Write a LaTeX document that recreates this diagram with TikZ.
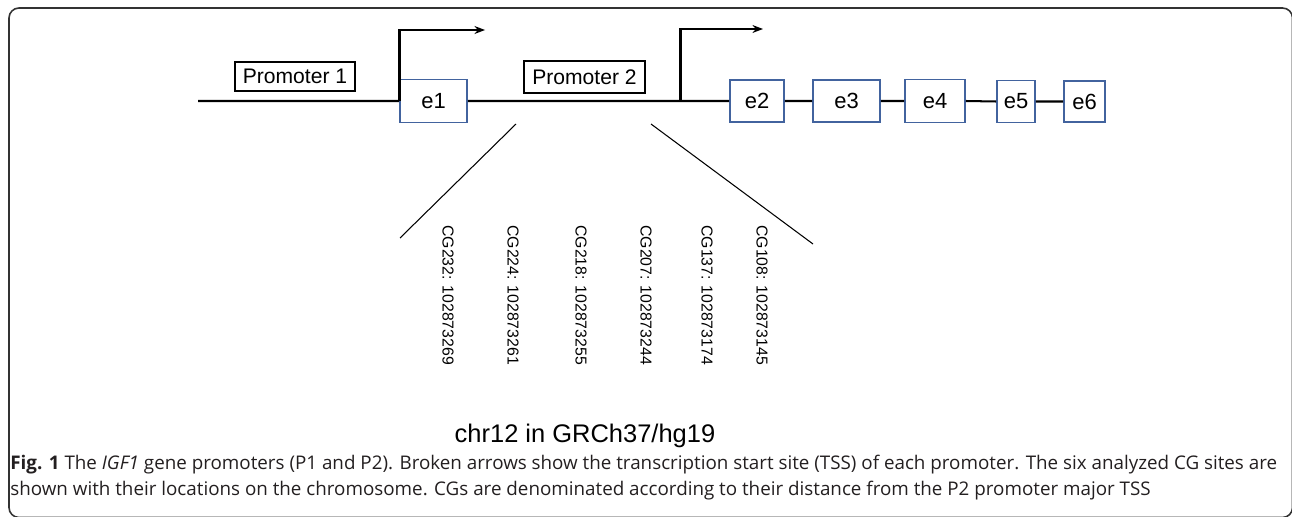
\documentclass[tikz,border=0pt]{standalone}
\usepackage{fontspec}
\setmainfont{Liberation Sans}
\newfontfamily\capfont{Open Sans}
\usetikzlibrary{arrows.meta}
\definecolor{exonblue}{RGB}{66,99,158}
\definecolor{capgray}{RGB}{35,31,32}
\begin{document}
\begin{tikzpicture}[x=0.02cm,y=-0.02cm,
	exon/.style={draw=exonblue,line width=1.1pt,fill=white,inner sep=0pt,font=\fontsize{12.5}{14}\selectfont},
	prom/.style={draw,line width=0.7pt,inner sep=0pt,font=\fontsize{12}{14}\selectfont},
	dna/.style={line width=1.15pt},
	tss/.style={line width=1.7pt,-{Stealth[length=6pt,width=4.5pt]}},
	cg/.style={rotate=-90,anchor=west,inner sep=0pt,font=\fontsize{9}{11}\selectfont},
	caption/.style={anchor=base west,inner sep=0pt,text=capgray,font=\capfont\fontsize{10.7}{14}\selectfont}]
	\useasboundingbox (0,0) rectangle (1292,517);
	\clip (0,0) rectangle (1292,517);
	\draw[line width=0.9pt,black!80,rounded corners=0.2cm] (9,8) rectangle (1292.5,517.5);
	% hộp promoter
	\node[prom,minimum width=2.4cm,minimum height=0.58cm] (p1) at (295,76.5) {Promoter 1};
	\node[prom,minimum width=2.42cm,minimum height=0.64cm] (p2) at (584.5,77) {Promoter 2};
	% exon
	\node[exon,minimum width=1.34cm,minimum height=0.86cm] (e1) at (433.5,101) {e1};
	\node[exon,minimum width=1.08cm,minimum height=0.84cm] (e2) at (757,101) {e2};
	\node[exon,minimum width=1.34cm,minimum height=0.84cm] (e3) at (846.5,101) {e3};
	\node[exon,minimum width=1.2cm,minimum height=0.86cm] (e4) at (935,101) {e4};
	\node[exon,minimum width=0.76cm,minimum height=0.84cm] (e5) at (1016,101.5) {e5};
	\node[exon,minimum width=0.82cm,minimum height=0.82cm] (e6) at (1084.5,101.5) {e6};
	% nhiễm sắc thể
	\coordinate (start) at (198,101);
	\coordinate (tss2) at (680,101);
	\draw[dna] (start) -- (e1.west) (e1.east) -- (e2.west) (e2.east) -- (e3.west)
		(e3.east) -- (e4.west) (e4.east) -- (e5.west) (e5.east) -- (e6.west);
	% TSS
	\draw[tss] (e1.west) -- ++(0,-71) -- ++(86,0);
	\draw[tss] (tss2) -- ++(0,-72) -- ++(83,0);
	% phóng to vùng P2
	\coordinate (zl) at (516,124); \coordinate (zl') at (400,238);
	\coordinate (zr) at (651,124); \coordinate (zr') at (813,244);
	\draw[line width=0.6pt] (zl) -- (zl') (zr) -- (zr');
	\foreach \cg/\pos/\x in {232/269/448,224/261/513,218/255/581,207/244/646,137/174/707,108/145/762}
		\node[cg] (cg\cg) at (\x,225) {CG\cg: 102873\pos};
	\node[font=\fontsize{14.5}{16}\selectfont,anchor=base] (chr) at (585,442) {chr12 in GRCh37/hg19};
	% chú thích
	\node[caption] (cap1) at (10,469) {\textbf{Fig. 1} The \textit{IGF1} gene promoters (P1 and P2). Broken arrows show the transcription start site (TSS) of each promoter. The six analyzed CG sites are};
	\node[caption] (cap2) at (10,495) {shown with their locations on the chromosome. CGs are denominated according to their distance from the P2 promoter major TSS};
\end{tikzpicture}
\end{document}
